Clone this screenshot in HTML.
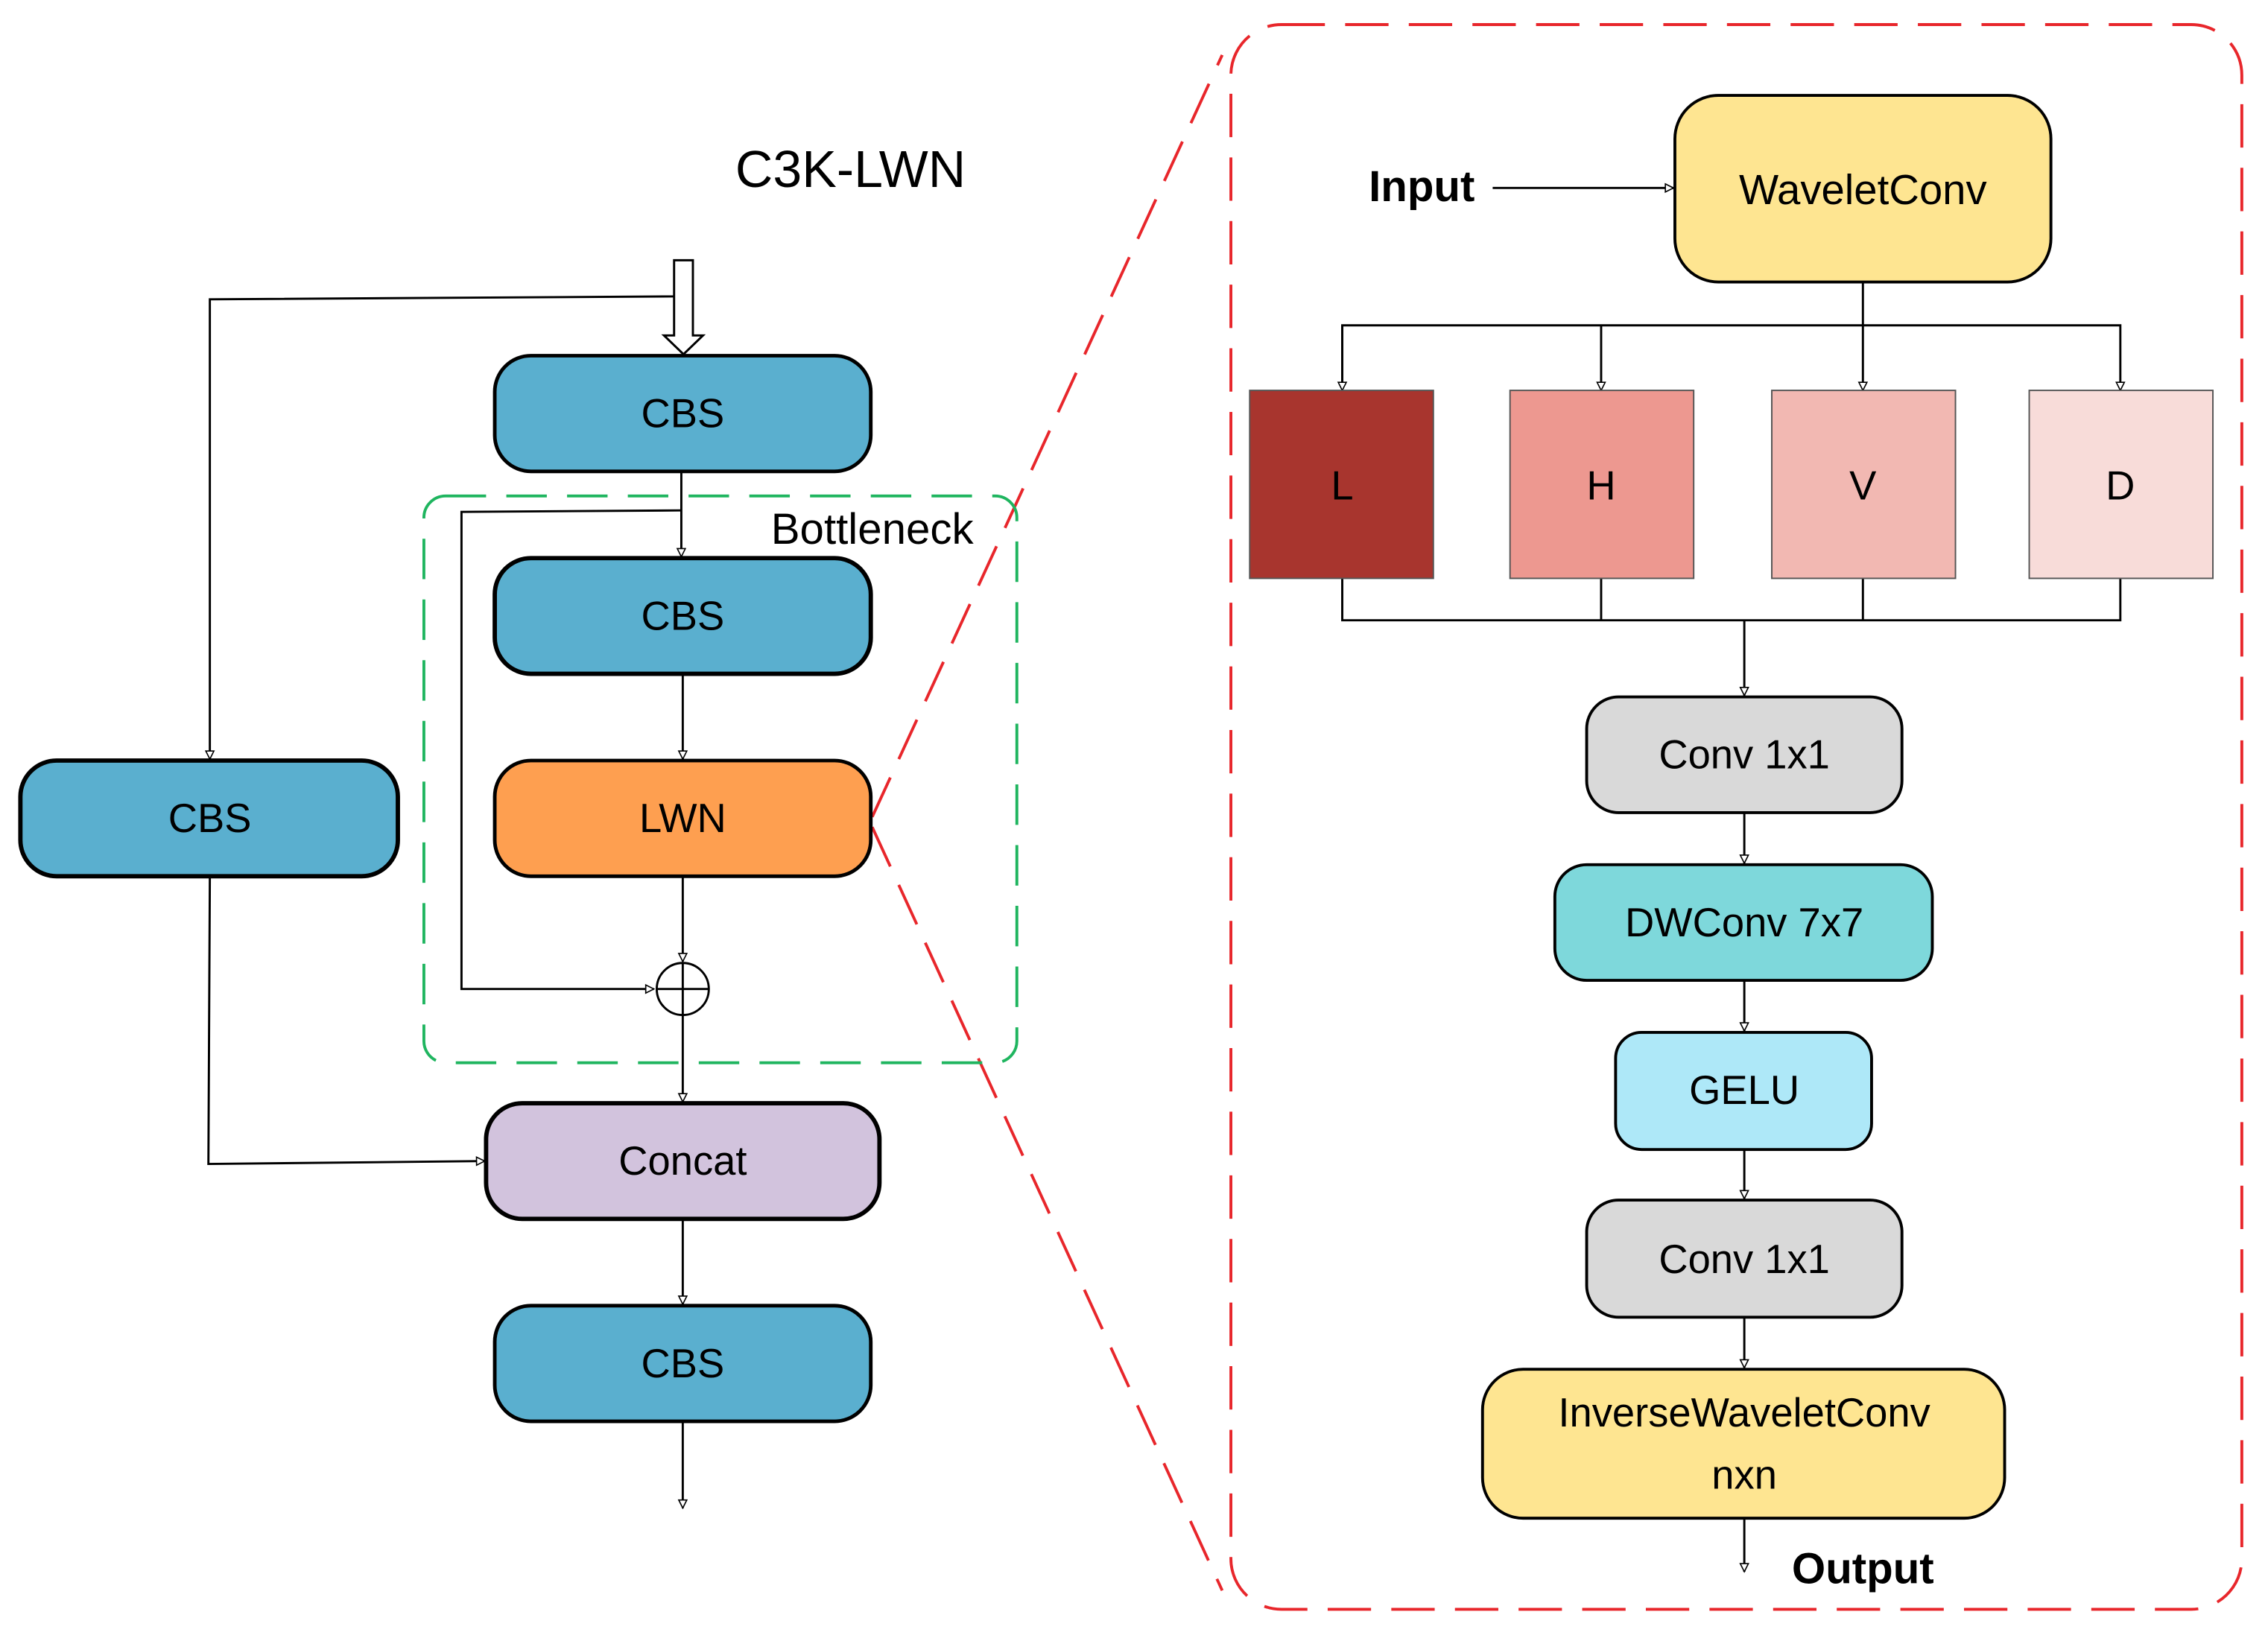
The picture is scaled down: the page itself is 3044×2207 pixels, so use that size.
<!DOCTYPE html>
<html><head><meta charset="utf-8"><style>
html,body{margin:0;padding:0;background:#fff;}
svg{display:block;}
text{font-family:"Liberation Sans",sans-serif;text-anchor:middle;dominant-baseline:central;fill:#000;}
</style></head><body>
<svg width="3044" height="2207" viewBox="0 0 1568 1137" xmlns="http://www.w3.org/2000/svg">
<defs>
<marker id="a" viewBox="0 0 10 10" refX="9" refY="5" markerWidth="7" markerHeight="7" orient="auto" markerUnits="userSpaceOnUse">
<path d="M1,1 L9,5 L1,9 Z" fill="#fff" stroke="#000" stroke-width="1.2"/></marker>
</defs>
<rect width="1568" height="1137" fill="#fff"/>
<text x="588" y="117" font-size="36">C3K-LWN</text>

<g fill="none" stroke="#e8262b" stroke-width="2" stroke-dasharray="30,14">
<rect x="851" y="17" width="699" height="1096" rx="35"/>
<line x1="603" y1="565" x2="845" y2="38"/>
<line x1="603" y1="572" x2="845" y2="1100"/>
</g>
<rect x="293" y="343" width="410" height="392" rx="15" fill="none" stroke="#1fb55f" stroke-width="2" stroke-dasharray="28,14"/>
<text x="603" y="366" font-size="30">Bottleneck</text>

<path d="M466,180 H479 V232 H486 L472.5,245 L459,232 H466 Z" fill="#fff" stroke="#000" stroke-width="1.5"/>

<g fill="none" stroke="#000" stroke-width="1.5">
<polyline points="466,205 145,207 145,525" marker-end="url(#a)"/>
<line x1="471" y1="326" x2="471" y2="385" marker-end="url(#a)"/>
<polyline points="471,353 319,354 319,684 452,684" marker-end="url(#a)"/>
<line x1="472" y1="466" x2="472" y2="525" marker-end="url(#a)"/>
<line x1="472" y1="606" x2="472" y2="665" marker-end="url(#a)"/>
<line x1="472" y1="702" x2="472" y2="762" marker-end="url(#a)"/>
<polyline points="145,606 144,805 335,803" marker-end="url(#a)"/>
<line x1="472" y1="843" x2="472" y2="902" marker-end="url(#a)"/>
<line x1="472" y1="983" x2="472" y2="1043" marker-end="url(#a)"/>
<circle cx="472" cy="684" r="18"/>
<line x1="454" y1="684" x2="490" y2="684"/>
<line x1="472" y1="666" x2="472" y2="702"/>
</g>

<g stroke="#000" stroke-width="2.5">
<rect x="342" y="246" width="260" height="80" rx="25" fill="#5aafcf"/>
<rect x="342" y="386" width="260" height="80" rx="25" fill="#5aafcf" stroke-width="3"/>
<rect x="342" y="526" width="260" height="80" rx="25" fill="#fe9f50"/>
<rect x="14" y="526" width="261" height="80" rx="25" fill="#5aafcf" stroke-width="3"/>
<rect x="336" y="763" width="272" height="80" rx="25" fill="#d2c3dd" stroke-width="3"/>
<rect x="342" y="903" width="260" height="80" rx="25" fill="#5aafcf"/>
</g>
<text x="472" y="286" font-size="28">CBS</text>
<text x="472" y="426" font-size="28">CBS</text>
<text x="472" y="566" font-size="28">LWN</text>
<text x="145" y="566" font-size="28">CBS</text>
<text x="472" y="803" font-size="28">Concat</text>
<text x="472" y="943" font-size="28">CBS</text>

<text x="983" y="129" font-size="30" font-weight="bold">Input</text>
<g fill="none" stroke="#000" stroke-width="1.5">
<line x1="1032" y1="130" x2="1157" y2="130" marker-end="url(#a)"/>
<polyline points="1288,195 1288,225"/>
<polyline points="928,270 928,225 1466,225 1466,270" marker-end="url(#a)"/>
<line x1="928" y1="225" x2="928" y2="270" marker-end="url(#a)"/>
<line x1="1107" y1="225" x2="1107" y2="270" marker-end="url(#a)"/>
<line x1="1288" y1="225" x2="1288" y2="270" marker-end="url(#a)"/>
<polyline points="928,400 928,429 1466,429 1466,400"/>
<line x1="1107" y1="400" x2="1107" y2="429"/>
<line x1="1288" y1="400" x2="1288" y2="429"/>
<line x1="1206" y1="429" x2="1206" y2="481" marker-end="url(#a)"/>
<line x1="1206" y1="562" x2="1206" y2="597" marker-end="url(#a)"/>
<line x1="1206" y1="678" x2="1206" y2="713" marker-end="url(#a)"/>
<line x1="1206" y1="795" x2="1206" y2="829" marker-end="url(#a)"/>
<line x1="1206" y1="911" x2="1206" y2="946" marker-end="url(#a)"/>
<line x1="1206" y1="1050" x2="1206" y2="1087" marker-end="url(#a)"/>
</g>
<g stroke="#000" stroke-width="2">
<rect x="1158" y="66" width="260" height="129" rx="30" fill="#fee591"/>
<rect x="1097" y="482" width="218" height="80" rx="22" fill="#d9d9d9"/>
<rect x="1075" y="598" width="261" height="80" rx="22" fill="#7ed8db"/>
<rect x="1117" y="714" width="177" height="81" rx="18" fill="#aee8f8"/>
<rect x="1097" y="830" width="218" height="81" rx="22" fill="#d9d9d9"/>
<rect x="1025" y="947" width="361" height="103" rx="28" fill="#fee591"/>
</g>
<g stroke="#555" stroke-width="1">
<rect x="864" y="270" width="127" height="130" fill="#a8352e"/>
<rect x="1044" y="270" width="127" height="130" fill="#ed9890"/>
<rect x="1225" y="270" width="127" height="130" fill="#f2b8b2"/>
<rect x="1403" y="270" width="127" height="130" fill="#f8dcd9"/>
</g>
<text x="1288" y="131" font-size="29">WaveletConv</text>
<text x="928" y="336" font-size="28">L</text>
<text x="1107" y="336" font-size="28">H</text>
<text x="1288" y="336" font-size="28">V</text>
<text x="1466" y="336" font-size="28">D</text>
<text x="1206" y="522" font-size="28">Conv 1x1</text>
<text x="1206" y="638" font-size="28">DWConv 7x7</text>
<text x="1206" y="754" font-size="28">GELU</text>
<text x="1206" y="871" font-size="28">Conv 1x1</text>
<text x="1206" y="977" font-size="28">InverseWaveletConv</text>
<text x="1206" y="1020" font-size="28">nxn</text>
<text x="1288" y="1085" font-size="30" font-weight="bold">Output</text>
</svg>
</body></html>
